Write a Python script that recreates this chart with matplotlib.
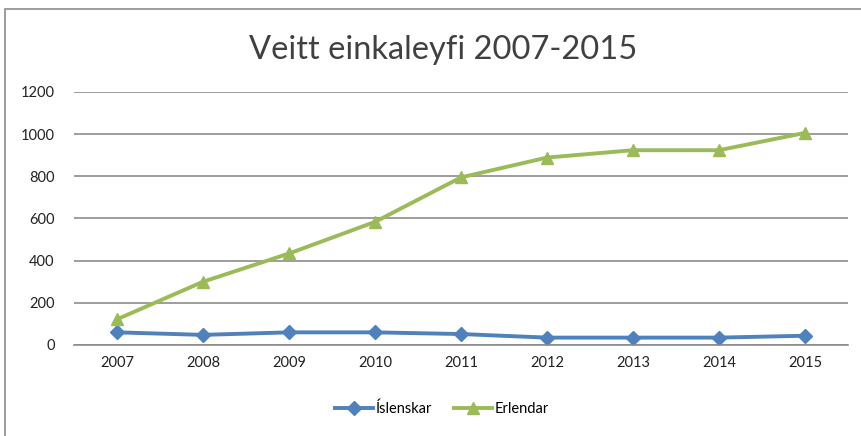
import matplotlib
matplotlib.use("Agg")
import matplotlib.pyplot as plt
from matplotlib.patches import Rectangle

years = [2007, 2008, 2009, 2010, 2011, 2012, 2013, 2014, 2015]
islenskar = [60, 48, 60, 60, 52, 35, 35, 35, 44]
erlendar = [122, 300, 434, 584, 795, 889, 924, 924, 1006]
yticks = [0, 200, 400, 600, 800, 1000, 1200]

c_isl, c_erl = "#4F81BD", "#9BBB59"
plt.rcParams["font.family"] = ["Lato", "DejaVu Sans"]

W, H = 861, 436
fig = plt.figure(figsize=(W / 100, H / 100), dpi=100)
ax = fig.add_axes([74 / W, 1 - 345 / H, (848 - 74) / W, (345 - 92) / H])

x = list(range(len(years)))
ax.plot(x, islenskar, color=c_isl, lw=2.8, marker="D", ms=7, label="Íslenskar")
ax.plot(x, erlendar, color=c_erl, lw=2.8, marker="^", ms=8.5, label="Erlendar")

ax.set_xlim(-0.5, len(years) - 0.5)
ax.set_ylim(0, 1200)
ax.set_yticks(yticks)
ax.set_xticks(x)
ax.set_xticklabels([str(y) for y in years])
ax.tick_params(axis="both", labelsize=10.5, length=0, colors="#222222")
ax.tick_params(axis="x", pad=8)
ax.tick_params(axis="y", pad=14)
ax.grid(axis="y", color="#8c8c8c", lw=1.2)
ax.set_axisbelow(True)
for s in ["top", "right", "left"]:
    ax.spines[s].set_visible(False)
ax.spines["bottom"].set_color("#8c8c8c")
ax.spines["bottom"].set_linewidth(1.2)

fig.text(443 / W, 1 - 50 / H, "Veitt einkaleyfi 2007-2015", ha="center", va="center",
         fontsize=23.5, color="#404040")

fig.legend(loc="center", bbox_to_anchor=(442 / W, 1 - 409 / H), ncol=2, frameon=False,
           fontsize=10.5, handlelength=2.6, columnspacing=1.5, handletextpad=0.2)

# chart border (cropped on right/bottom)
fig.patches.append(Rectangle((5 / W, -0.1), 1.2, 1 - 9 / H + 0.1, transform=fig.transFigure,
                             fill=False, edgecolor="#8c8c8c", lw=1.2))

fig.savefig("out.png", dpi=100)
